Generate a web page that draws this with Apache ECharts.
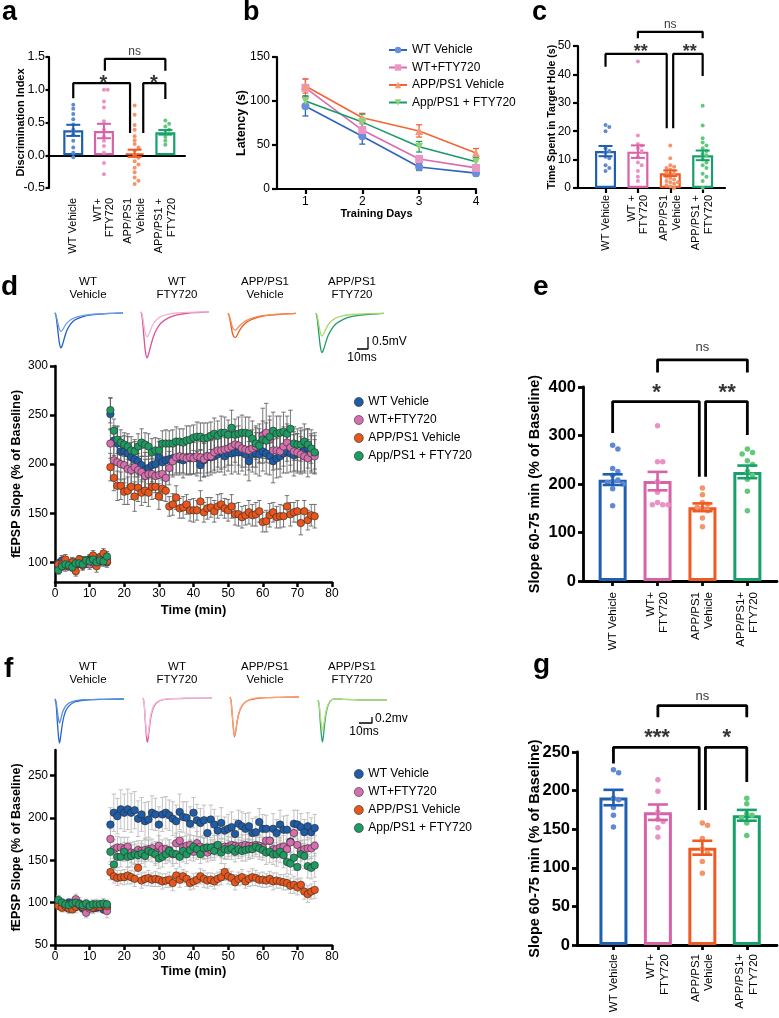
<!DOCTYPE html>
<html><head><meta charset="utf-8">
<script src="https://cdn.jsdelivr.net/npm/echarts@6/dist/echarts.min.js"></script>
<style>html,body{margin:0;padding:0;background:#fff}#c{width:779px;height:1018px}</style>
</head><body><div id="c"></div>
<script>
const FONT='"Liberation Sans", Arial, Helvetica, sans-serif';

// ================= DATA =================
const groups=['WT Vehicle','WT+FTY720','APP/PS1 Vehicle','App/PS1 + FTY720'];
const labelsA=['WT Vehicle','WT+\nFTY720','APP/PS1\nVehicle','APP/PS1 +\nFTY720'];
const labelsC=['WT Vehicle','WT +\nFTY720','APP/PS1\nVehicle','APP/PS1 +\nFTY720'];
const labelsEG=['WT Vehicle','WT+\nFTY720','APP/PS1\nVehicle','APP/PS1+\nFTY720'];

// panel a
const aMean=[0.38,0.37,0.03,0.35];
const aSem=[0.085,0.11,0.055,0.035];
const aDots=[[0.77,0.71,0.63,0.55,0.47,0.39,0.32,0.22,0.12,0.04,-0.03],
  [1.0,1.0,0.82,0.73,0.52,0.39,0.29,0.22,0.14,0.04,-0.12,-0.29],
  [0.76,0.62,0.46,0.39,0.29,0.23,0.17,0.12,0.07,0.0,-0.04,-0.09,-0.14,-0.19,-0.26,-0.34,-0.39,-0.44],
  [0.53,0.48,0.44,0.39,0.34,0.28,0.22,0.16]];
const aBrackets=[{x1:0,x2:1.85,y:1.1,l1:0.87,l2:0.34,t:'*',tx:0.98,ty:1.17},
  {x1:2.28,x2:3,y:1.1,l1:0.34,l2:0.86,t:'*',tx:2.63,ty:1.17},
  {x1:1.03,x2:3,y:1.47,l1:1.29,l2:1.29,t:'ns',tx:2.0,ty:1.58}];

// panel b
const bDays=[1,2,3,4];
const bMean=[[94,60,25,18],[115,67,34,24],[117,81,66,41],[100,76,48,31]];
const bSem=[[11,9,4,3],[10,7,4,3],[8,5,7,5],[6,9,6,5]];

// panel c
const cMean=[13.0,12.8,5.2,11.5];
const cSem=[1.8,2.2,1.0,1.7];
const cDots=[[22.2,21.5,20,14,13,12.5,11,10.5,8,7,6],
  [44.5,18.5,15.5,15,14,13,11,9,8,6,4,2.5],
  [15,10.5,8,7.5,7,6.5,6,5.5,5,4.5,4,3.5,3,2.5,2,2,1.5,1,0.5,0],
  [29,22,17.5,16,15,14,13,12,11.5,10,9,8,7,5,4,2.5,0]];
const cBrackets=[{x1:0,x2:1.89,y:47.2,l1:42.7,l2:21,t:'**',tx:1.09,ty:49.3},
  {x1:2.09,x2:3,y:47.2,l1:21,l2:39.4,t:'**',tx:2.6,ty:49.3},
  {x1:1,x2:3,y:55,l1:52.7,l2:52.7,t:'ns',tx:2.0,ty:57.5}];

// traces (ms, mV)
const tD=[0,1,2.5,4,5.5,7,9,11,14,18,25,33,42,52,62];
const dTraces=[
  {small:[0,-0.1,-0.4,-0.68,-0.78,-0.7,-0.55,-0.42,-0.3,-0.2,-0.12,-0.07,-0.04,-0.02,0],
   large:[0,-0.15,-0.7,-1.25,-1.46,-1.3,-0.98,-0.72,-0.48,-0.3,-0.17,-0.09,-0.05,-0.02,0]},
  {small:[0,-0.1,-0.5,-0.9,-1.04,-0.95,-0.72,-0.52,-0.34,-0.2,-0.1,-0.05,-0.02,-0.01,0],
   large:[0,-0.2,-0.95,-1.65,-1.92,-1.75,-1.4,-1.08,-0.75,-0.48,-0.25,-0.13,-0.06,-0.03,0]},
  {small:[0,-0.08,-0.32,-0.58,-0.68,-0.7,-0.6,-0.5,-0.38,-0.27,-0.16,-0.09,-0.05,-0.02,0],
   large:[0,-0.1,-0.45,-0.82,-0.98,-1.0,-0.85,-0.68,-0.5,-0.34,-0.2,-0.11,-0.06,-0.02,0]},
  {small:[0,-0.1,-0.45,-0.82,-0.95,-0.86,-0.66,-0.48,-0.32,-0.2,-0.1,-0.05,-0.02,-0.01,0],
   large:[0,-0.18,-0.8,-1.4,-1.64,-1.5,-1.2,-0.94,-0.68,-0.45,-0.25,-0.13,-0.07,-0.03,0]}];
const tF=[0,0.8,1.8,2.8,3.5,4.5,6,8,11,15,20,28,38,53];
const fTraces=[
  {small:[0,-0.08,-0.4,-0.7,-0.8,-0.66,-0.42,-0.25,-0.13,-0.06,-0.03,-0.02,-0.01,0],
   large:[0,-0.15,-0.75,-1.3,-1.47,-1.2,-0.75,-0.42,-0.22,-0.1,-0.05,-0.02,-0.01,0]},
  {small:[0,-0.12,-0.7,-1.18,-1.3,-1.0,-0.55,-0.27,-0.12,-0.05,-0.02,-0.01,0,0],
   large:[0,-0.15,-0.8,-1.35,-1.47,-1.15,-0.65,-0.32,-0.14,-0.06,-0.03,-0.02,-0.01,0]},
  {small:[0,-0.12,-0.62,-1.1,-1.28,-1.08,-0.68,-0.38,-0.19,-0.09,-0.04,-0.02,-0.01,0],
   large:[0,-0.12,-0.65,-1.15,-1.33,-1.12,-0.7,-0.4,-0.2,-0.1,-0.05,-0.02,-0.01,0]},
  {small:[0,-0.1,-0.5,-0.88,-1.0,-0.78,-0.4,-0.12,0.02,0.04,0.02,0.01,0,0],
   large:[0,-0.15,-0.75,-1.25,-1.4,-1.05,-0.5,-0.15,0.02,0.04,0.02,0.01,0,0]}];
const traceTitles=['WT\nVehicle','WT\nFTY720','APP/PS1\nVehicle','APP/PS1\nFTY720'];
const scaleD={ms:10,mv:0.5,label:'0.5mV'};
const scaleF={ms:10,mv:0.2,label:'0.2mv'};

// panel d : fEPSP slope, minutes 1..75
const minutes=Array.from({length:75},(_,i)=>i+1);
const dWT=[99,102,97,98,99,97,100,99,100,103,102,101,103,105,100,
 251,224,221,213,213,211,207,205,203,199,194,196,199,200,207,202,204,205,206,206,205,204,207,206,207,206,199,204,207,207,208,210,212,208,211,211,212,212,212,210,203,210,211,210,213,211,208,203,206,208,211,213,211,209,211,212,214,216,213,211];
const dFTY=[97,98,96,99,97,98,100,101,99,98,100,104,102,103,103,
 221,204,202,200,199,195,194,197,194,192,188,190,190,188,189,190,186,196,203,207,208,207,206,207,206,208,207,205,208,208,212,214,214,215,216,218,220,219,216,215,214,216,218,221,229,232,225,214,214,213,218,222,217,213,212,210,208,206,211,208];
const dAPP=[98,98,103,96,100,91,103,97,101,102,107,96,104,109,101,
 197,186,178,178,172,173,177,167,176,171,173,171,177,177,167,175,173,157,159,166,155,156,159,153,153,153,162,151,155,156,152,157,159,155,153,157,149,149,146,148,151,148,149,152,141,142,148,151,146,147,147,157,149,151,152,140,152,143,148,147];
const dAPPF=[92,96,98,97,95,99,99,98,102,101,103,100,102,101,106,
 255,234,225,222,220,218,214,213,218,222,220,218,212,214,214,221,221,221,221,223,223,222,224,225,227,228,228,226,227,229,231,229,232,232,230,237,230,231,232,232,231,226,221,219,225,224,228,234,231,232,233,231,236,221,220,220,223,220,216,212];
const dWTsem=[4,5,4,4,5,4,5,4,5,5,4,5,6,6,5,
 16,15,17,15,16,17,15,18,16,17,18,16,17,15,16,18,17,16,17,15,16,18,17,16,17,18,16,17,19,18,17,18,20,19,18,21,20,22,19,21,20,18,21,22,20,21,19,22,20,21,20,22,19,21,20,22,21,20,22,21];
const dFTYsem=[4,4,5,4,5,4,4,5,4,5,5,4,5,5,4,
 15,16,17,16,18,17,16,18,17,16,17,18,16,17,18,16,15,17,16,18,17,16,17,18,16,17,16,18,17,16,18,17,19,18,17,19,18,20,19,18,20,19,21,20,28,30,24,20,19,18,20,19,18,20,19,18,17,19,18,17];
const dAPPsem=[4,5,5,4,5,5,4,5,4,5,5,6,5,5,4,
 14,13,15,14,13,14,13,15,14,13,12,14,13,12,13,12,11,10,11,12,10,11,10,11,12,10,11,10,11,10,11,12,11,10,11,12,11,12,11,10,12,11,12,11,10,11,12,10,11,12,11,11,12,10,11,12,11,10,11,12];
const dAPPFsem=[4,4,5,4,4,5,4,5,4,4,5,5,4,5,5,
 13,12,14,13,12,13,14,12,13,14,12,13,14,13,12,13,14,13,14,15,13,14,15,14,13,15,14,16,15,14,16,15,17,16,15,18,16,17,18,16,17,18,16,17,19,18,17,19,18,17,20,18,19,17,16,17,18,16,15,17];

// panel e
const eMean=[209,206,152,225];
const eSem=[11,19,8,13];
const eDots=[[280,272,232,226,218,208,205,203,200,190,155],
  [320,246,246,205,183,162,157,157,157],
  [192,178,162,158,152,150,145,130,112],
  [272,265,262,248,240,226,218,210,185,145]];
const eBrackets=[{x1:0,x2:1.93,y:370,l1:305,l2:215,t:'*',tx:0.98,ty:397},
  {x1:2.07,x2:3,y:370,l1:215,l2:301,t:'**',tx:2.55,ty:397},
  {x1:1,x2:3,y:456,l1:430,l2:430,t:'ns',tx:2.0,ty:482}];

// panel f
const fWT=[102,98,95,100,97,95,97,93,96,94,93,94,95,92,94,
 192,206,202,210,206,210,206,209,199,204,196,198,206,204,192,204,206,203,199,196,207,201,200,193,206,197,194,197,182,198,192,185,194,185,187,189,181,193,190,187,190,182,183,195,187,187,173,187,182,192,186,186,172,193,192,189,183,190,183,188];
const fFTY=[98,96,95,93,94,104,99,96,88,93,97,95,96,97,90,
 175,163,165,165,163,166,159,159,162,161,162,163,164,159,167,163,163,162,157,170,173,165,167,168,160,170,166,164,159,162,166,167,164,166,166,168,167,166,167,168,167,167,168,167,165,173,173,163,163,165,166,163,171,182,168,161,163,164,164,167];
const fAPP=[96,94,96,93,92,95,97,95,96,95,94,96,95,97,96,
 136,131,129,130,130,132,130,128,141,126,128,129,127,128,127,125,126,127,123,132,127,131,128,123,125,127,131,128,126,127,125,128,130,136,131,129,124,128,130,125,128,130,129,127,127,126,128,125,126,125,124,123,120,121,118,121,113,110,113,115];
const fAPPF=[103,100,98,97,99,100,98,97,99,96,98,98,98,99,98,
 160,145,154,154,160,154,155,157,156,158,155,161,159,157,152,154,157,161,158,157,154,161,157,162,166,163,157,164,165,165,161,168,159,163,162,164,160,163,161,162,163,163,166,164,162,159,160,157,157,160,156,148,146,153,142,157,155,143,141,144];
const fWTsem=[6,5,6,5,6,7,6,5,6,5,6,5,6,5,6,
 20,22,21,23,22,24,23,22,21,20,22,21,20,19,21,20,19,18,20,19,21,18,19,20,18,19,17,18,19,17,18,17,18,16,17,18,17,16,17,18,16,17,18,16,17,16,17,18,16,17,16,17,15,16,17,16,15,16,17,16];
const fFTYsem=[5,6,5,6,5,6,7,5,6,5,6,5,6,5,8,
 12,11,13,12,14,11,12,13,11,12,14,12,11,13,12,11,13,12,14,12,11,13,12,12,11,14,12,13,11,12,13,12,11,14,12,13,12,11,13,12,14,12,11,13,12,12,13,11,14,12,13,12,11,13,14,12,11,13,12,12];
const fAPPsem=[4,5,4,5,4,5,4,5,4,5,4,5,4,5,4,
 9,8,9,8,9,10,8,9,8,9,8,9,8,9,8,9,8,9,9,8,9,8,9,8,9,8,9,10,9,8,9,8,9,10,9,8,9,8,9,8,9,10,9,8,9,8,9,10,9,8,9,8,9,10,9,8,9,10,9,10];
const fAPPFsem=[5,5,6,5,6,5,6,5,5,6,5,6,5,6,5,
 12,11,13,12,11,12,13,12,11,12,13,12,11,13,12,12,11,13,12,11,12,13,11,12,13,12,11,12,13,12,11,12,13,12,11,13,12,11,12,13,12,11,12,13,12,14,13,12,14,13,15,14,13,15,14,13,15,14,13,14];

// panel g
const gMean=[191,172,126,168];
const gSem=[10,10,9,7];
const gDots=[[227,223,190,188,178,168,153],
  [214,199,172,163,160,152,140],
  [158,155,138,124,119,108,93],
  [190,183,170,168,165,158,142]];
const gBrackets=[{x1:0,x2:1.93,y:256,l1:235,l2:175,t:'***',tx:0.98,ty:274},
  {x1:2.07,x2:3,y:256,l1:175,l2:211,t:'*',tx:2.55,ty:274},
  {x1:1,x2:3,y:310,l1:295,l2:295,t:'ns',tx:2.0,ty:322}];

// ================= STYLE =================
const barCol=['#1f5fb0','#d862a7','#ef5a23','#17a06b'];
const dotCol=['#5f8ad3','#eb92c5','#f5946a','#62c97a'];
const bLine=['#2f65bf','#de6aae','#f26636','#1b9a68'];
const bMark=['#6a8fd8','#ea97c6','#f5997a','#8ed27a'];
const bSym=['circle','rect','triangle','triangle'];
const bRot=[0,0,0,180];
const ltpCol=['#1f5ca8','#d66fae','#e8561c','#1e9a62'];
const trSmall=[['#6f9ee6','#f2b3d5','#f58a55','#a9d86e'],['#5a90e0','#f3bedb','#f6a27a','#b7df7f']];
const trLarge=[['#2160c4','#d9529a','#ea5a1e','#1e9e63'],['#2565c8','#d95a9e','#f0652a','#27a36a']];

const grid=[],xAxis=[],yAxis=[],series=[],legend=[],graphic=[];

function errSeries(xi,yi,rows,color,lw,cap,z){
  return {type:'custom',xAxisIndex:xi,yAxisIndex:yi,z:z,silent:true,clip:false,
    encode:{x:0,y:[1,2]},data:rows,
    renderItem:function(params,api){
      const x=api.value(0),lo=api.value(1),hi=api.value(2);
      const a=api.coord([x,lo]),b=api.coord([x,hi]);
      const st={stroke:color,lineWidth:lw};
      return {type:'group',children:[
        {type:'line',shape:{x1:a[0],y1:a[1],x2:b[0],y2:b[1]},style:st},
        {type:'line',shape:{x1:a[0]-cap,y1:a[1],x2:a[0]+cap,y2:a[1]},style:st},
        {type:'line',shape:{x1:b[0]-cap,y1:b[1],x2:b[0]+cap,y2:b[1]},style:st}]};
    }};
}

function swarm(vals,pxPerY,size,pxPerX){
  const placed=[],out=[];
  vals.forEach(v=>{
    const y=v*pxPerY;let off=0;
    for(const c of [0,1,-1,2,-2,3,-3]){
      const x=c*size*0.95;
      if(placed.every(p=>Math.hypot(p[0]-x,p[1]-y)>=size*0.95)){off=x;break;}
    }
    placed.push([off,y]);out.push(off/pxPerX);
  });
  return out;
}

function txt(x,y,text,o){
  o=o||{};
  graphic.push({type:'text',x:x,y:y,silent:true,z:100,style:{text:text,fill:'#000',
    font:(o.bold?'bold ':'')+(o.size||12)+'px '+FONT,
    align:o.align||'left',verticalAlign:'middle',textAlign:o.align||'left',textVerticalAlign:'middle',
    lineHeight:o.lh||undefined}});
}

function barPanel(P){
  const gi=grid.length;
  grid.push({left:P.left,top:P.top,width:P.width,height:P.height});
  const ax={color:'#000',width:P.lw};
  const xi=xAxis.length;
  xAxis.push({gridIndex:gi,type:'value',min:P.xmin,max:P.xmax,position:'bottom',
    axisLine:{show:!P.zeroLine,onZero:false,lineStyle:ax},
    axisTick:{show:!P.zeroLine,length:5,customValues:[0,1,2,3],lineStyle:ax},
    axisLabel:{customValues:[0,1,2,3],formatter:v=>P.labels[Math.round(v)],rotate:90,
      fontSize:P.xfs,fontFamily:FONT,color:'#000',margin:P.lmargin,lineHeight:P.xfs*1.15},
    splitLine:{show:false}});
  if(P.zeroLine){
    xAxis.push({gridIndex:gi,type:'value',min:P.xmin,max:P.xmax,position:'bottom',
      axisLine:{show:true,onZero:true,lineStyle:ax},axisTick:{show:false},axisLabel:{show:false},splitLine:{show:false}});
  }
  const yi=yAxis.length;
  yAxis.push({gridIndex:gi,type:'value',min:P.ymin,max:P.ymax,interval:P.yint,
    axisLine:{show:true,onZero:false,lineStyle:ax},axisTick:{show:true,length:P.tickLen||5,lineStyle:ax},
    axisLabel:{fontSize:P.yfs,fontWeight:P.yfw||'normal',fontFamily:FONT,color:'#000',margin:P.ymargin,formatter:P.yfmt},
    splitLine:{show:false},name:P.yname,nameLocation:'middle',nameGap:P.ngap,nameMoveOverlap:false,
    nameTextStyle:{fontSize:P.nfs,fontWeight:'bold',fontFamily:FONT,color:'#000'}});
  series.push({type:'bar',xAxisIndex:xi,yAxisIndex:yi,barWidth:P.bw,z:2,silent:true,
    data:P.means.map((m,i)=>({value:[i,m],itemStyle:{color:'#fff',borderColor:barCol[i],borderWidth:P.bbw}}))});
  const pxY=P.height/(P.ymax-P.ymin), pxX=P.width/(P.xmax-P.xmin);
  P.dots.forEach((vals,i)=>{
    const offs=swarm(vals,pxY,P.ds,pxX);
    series.push({type:'scatter',xAxisIndex:xi,yAxisIndex:yi,symbolSize:P.ds,z:4,silent:true,
      itemStyle:{color:dotCol[i],opacity:1},data:vals.map((v,j)=>[i+offs[j],v])});
  });
  P.means.forEach((m,i)=>{
    series.push(errSeries(xi,yi,[[i,m-P.sem[i],m+P.sem[i]]],barCol[i],P.elw,P.cap,5));
  });
  P.brackets.forEach(b=>{
    series.push({type:'line',xAxisIndex:xi,yAxisIndex:yi,clip:false,symbol:'none',silent:true,z:6,
      lineStyle:{color:'#000',width:P.brw},data:[[b.x1,b.l1],[b.x1,b.y],[b.x2,b.y],[b.x2,b.l2]]});
  });
  series.push({type:'scatter',xAxisIndex:xi,yAxisIndex:yi,clip:false,silent:true,z:7,symbolSize:1,
    itemStyle:{color:'rgba(0,0,0,0)'},
    data:P.brackets.map(b=>{
      const star=b.t!=='ns';const fs=star?P.starFs:P.nsFs;
      return {value:[b.tx,b.ty],label:{show:true,position:'inside',formatter:b.t,color:'#000',
        fontFamily:FONT,fontSize:fs,fontWeight:star?'bold':'normal',offset:[0,star?fs*0.22:0]}};
    })});
}

function ltpPanel(P){
  const gi=grid.length;
  grid.push({left:P.left,top:P.top,width:P.width,height:P.height});
  const ax={color:'#000',width:P.lw};
  const xi=xAxis.length;
  xAxis.push({gridIndex:gi,type:'value',min:0,max:80,interval:10,
    axisLine:{show:true,onZero:false,lineStyle:ax},axisTick:{show:true,length:5,lineStyle:ax},
    axisLabel:{fontSize:12,fontFamily:FONT,color:'#000',margin:6},splitLine:{show:false},
    name:'Time (min)',nameLocation:'middle',nameGap:P.xgap,nameMoveOverlap:false,
    nameTextStyle:{fontSize:13,fontWeight:'bold',fontFamily:FONT,color:'#000'}});
  const yi=yAxis.length;
  yAxis.push({gridIndex:gi,type:'value',min:P.ymin,max:P.ymax,
    axisLine:{show:true,onZero:false,lineStyle:ax},
    axisTick:{show:true,length:5,customValues:P.yticks,lineStyle:ax},
    axisLabel:{customValues:P.yticks,fontSize:12,fontFamily:FONT,color:'#000',margin:7},
    splitLine:{show:false},name:'fEPSP Slope (% of Baseline)',nameLocation:'middle',nameGap:P.ngap,nameMoveOverlap:false,
    nameTextStyle:{fontSize:12.5,fontWeight:'bold',fontFamily:FONT,color:'#000'}});
  P.vals.forEach((vals,k)=>{
    series.push(errSeries(xi,yi,vals.map((v,j)=>[minutes[j],v-P.sems[k][j],v+P.sems[k][j]]),P.errCol,0.8,2.2,3));
  });
  P.vals.forEach((vals,k)=>{
    series.push({type:'scatter',name:P.key+':'+groups[k],xAxisIndex:xi,yAxisIndex:yi,symbolSize:7.5,z:5,silent:true,
      itemStyle:{color:ltpCol[k],borderColor:'#2a2a2a',borderWidth:0.6,opacity:1},
      data:vals.map((v,j)=>[minutes[j],v])});
  });
  legend.push({left:P.legLeft,top:P.legTop,orient:'vertical',itemGap:6,itemWidth:9,itemHeight:9,selectedMode:false,
    textStyle:{fontSize:12,fontFamily:FONT,color:'#000'},formatter:n=>n.slice(2),
    data:groups.map((g,k)=>({name:P.key+':'+g,icon:'circle',itemStyle:{color:ltpCol[k],borderColor:'#2a2a2a',borderWidth:0.6}}))});
}

function tracePanel(T){
  T.lefts.forEach((left,i)=>{
    const gi=grid.length;
    grid.push({left:left,top:T.tops[i],width:T.w,height:T.h});
    const xi=xAxis.length,yi=yAxis.length;
    xAxis.push({gridIndex:gi,type:'value',show:false,min:0,max:T.tmax});
    yAxis.push({gridIndex:gi,type:'value',show:false,min:T.ymin,max:T.ymax});
    const tr=T.traces[i];
    series.push({type:'line',xAxisIndex:xi,yAxisIndex:yi,showSymbol:false,smooth:0.3,silent:true,clip:false,z:3,
      lineStyle:{color:trLarge[T.ci][i],width:1.3},data:T.t.map((t,j)=>[t,tr.large[j]])});
    series.push({type:'line',xAxisIndex:xi,yAxisIndex:yi,showSymbol:false,smooth:0.3,silent:true,clip:false,z:4,
      lineStyle:{color:trSmall[T.ci][i],width:1.3},data:T.t.map((t,j)=>[t,tr.small[j]])});
    txt(T.titleX[i],T.titleY,traceTitles[i],{size:11.5,align:'center',lh:13});
  });
  const gi=grid.length;
  grid.push(T.sbGrid);
  const xi=xAxis.length,yi=yAxis.length;
  xAxis.push({gridIndex:gi,type:'value',show:false,min:0,max:T.scale.ms});
  yAxis.push({gridIndex:gi,type:'value',show:false,min:0,max:T.scale.mv});
  series.push({type:'line',xAxisIndex:xi,yAxisIndex:yi,showSymbol:false,silent:true,clip:false,
    lineStyle:{color:'#000',width:1.3},data:[[0,0],[T.scale.ms,0],[T.scale.ms,T.scale.mv]]});
  txt(T.sbLab[0],T.sbLab[1],T.scale.label,{size:12});
  txt(T.msLab[0],T.msLab[1],T.scale.ms+'ms',{size:12,align:'center'});
}

// ---------- panel a ----------
barPanel({left:49,top:57,width:136,height:131,xmin:-0.79,xmax:3.64,ymin:-0.5,ymax:1.5,yint:0.5,
  yfmt:v=>v.toFixed(1),labels:labelsA,means:aMean,sem:aSem,dots:aDots,brackets:aBrackets,zeroLine:true,
  bw:20,bbw:2.2,lw:2.2,ds:4,cap:7,elw:2,xfs:11,lmargin:10,yfs:12.5,ymargin:4,tickLen:3.5,
  yname:'Discrimination Index',nfs:11,ngap:23,brw:2.2,starFs:20,nsFs:12});

// ---------- panel b ----------
(function(){
  const gi=grid.length;
  grid.push({left:277,top:57,width:199,height:132});
  const ax={color:'#000',width:2.2};
  const xi=xAxis.length,yi=yAxis.length;
  xAxis.push({gridIndex:gi,type:'value',min:0.5,max:4,
    axisLine:{show:true,onZero:false,lineStyle:ax},axisTick:{show:true,length:5,customValues:bDays,lineStyle:ax},
    axisLabel:{customValues:bDays,fontSize:12,fontFamily:FONT,color:'#000',margin:7},splitLine:{show:false},
    name:'Training Days',nameLocation:'middle',nameGap:19,nameMoveOverlap:false,
    nameTextStyle:{fontSize:11,fontWeight:'bold',fontFamily:FONT,color:'#000'}});
  yAxis.push({gridIndex:gi,type:'value',min:0,max:150,interval:50,
    axisLine:{show:true,onZero:false,lineStyle:ax},axisTick:{show:true,length:5,lineStyle:ax},
    axisLabel:{fontSize:12,fontFamily:FONT,color:'#000',margin:7},splitLine:{show:false},
    name:'Latency (s)',nameLocation:'middle',nameGap:29,nameMoveOverlap:false,
    nameTextStyle:{fontSize:12.5,fontWeight:'bold',fontFamily:FONT,color:'#000'}});
  bMean.forEach((m,k)=>{
    series.push(errSeries(xi,yi,bDays.map((d,j)=>[d,m[j]-bSem[k][j],m[j]+bSem[k][j]]),bLine[k],1.3,3,3));
  });
  bMean.forEach((m,k)=>{
    series.push({type:'line',name:'b:'+groups[k],xAxisIndex:xi,yAxisIndex:yi,symbol:bSym[k],symbolRotate:bRot[k],
      symbolSize:8,showSymbol:true,z:5,silent:true,lineStyle:{color:bLine[k],width:1.6},
      itemStyle:{color:bMark[k]},data:bDays.map((d,j)=>[d,m[j]])});
  });
  legend.push({left:383,top:39,orient:'vertical',itemGap:5.5,itemWidth:18,itemHeight:8,selectedMode:false,
    textStyle:{fontSize:12,fontFamily:FONT,color:'#000'},formatter:n=>n.slice(2),
    data:groups.map(g=>'b:'+g)});
})();

// ---------- panel c ----------
barPanel({left:578,top:46,width:147,height:142,xmin:-0.85,xmax:3.69,ymin:0,ymax:50,yint:10,
  labels:labelsC,means:cMean,sem:cSem,dots:cDots,brackets:cBrackets,zeroLine:false,
  bw:21,bbw:2.2,lw:2.2,ds:4,cap:7,elw:2,xfs:11,lmargin:7,yfs:12,ymargin:7,
  yname:'Time Spent in Target Hole (s)',nfs:10.5,ngap:20.5,brw:2.2,starFs:18,nsFs:12});

// ---------- panel d ----------
tracePanel({lefts:[55,141,228,316],tops:[308,307,308.5,308.5],w:68,h:54,tmax:62,ymin:-2.05,ymax:0.2,
  t:tD,traces:dTraces,ci:0,titleX:[88,177,265,352],titleY:288.5,scale:scaleD,
  sbGrid:{left:357,top:337,width:11,height:12},sbLab:[372,342],msLab:[362,358]});
ltpPanel({key:'d',left:55,top:366,width:277,height:216,ymin:80,ymax:300,yticks:[100,150,200,250,300],
  vals:[dWT,dFTY,dAPP,dAPPF],sems:[dWTsem,dFTYsem,dAPPsem,dAPPFsem],errCol:'#555',lw:2.5,
  xgap:22,ngap:32,legLeft:349,legTop:391});

// ---------- panel e ----------
barPanel({left:583,top:387,width:194,height:194,xmin:-0.66,xmax:3.66,ymin:0,ymax:400,yint:100,
  labels:labelsEG,means:eMean,sem:eSem,dots:eDots,brackets:eBrackets,zeroLine:false,
  bw:28,bbw:3,lw:2.8,ds:5.5,cap:10,elw:2.6,xfs:11.5,lmargin:11,yfs:16.5,yfw:'bold',ymargin:7,
  yname:'Slope 60-75 min (% of Baseline)',nfs:14.5,ngap:40.5,brw:2.8,starFs:22,nsFs:13});

// ---------- panel f ----------
tracePanel({lefts:[55,143,230,318],tops:[693,692,691,694],w:69,h:54,tmax:53,ymin:-1.6,ymax:0.2,
  t:tF,traces:fTraces,ci:1,titleX:[88,177,265,352],titleY:673,scale:scaleF,
  sbGrid:{left:359,top:717,width:13,height:6},sbLab:[375,719],msLab:[364,732]});
ltpPanel({key:'f',left:55,top:750,width:277,height:195,ymin:50,ymax:280,yticks:[50,100,150,200,250],
  vals:[fWT,fFTY,fAPP,fAPPF],sems:[fWTsem,fFTYsem,fAPPsem,fAPPFsem],errCol:'#b5b5b5',lw:2.5,
  xgap:20,ngap:32,legLeft:349,legTop:763});

// ---------- panel g ----------
barPanel({left:577,top:752,width:200,height:193,xmin:-0.82,xmax:3.68,ymin:0,ymax:250,yint:50,
  labels:labelsEG,means:gMean,sem:gSem,dots:gDots,brackets:gBrackets,zeroLine:false,
  bw:28,bbw:3,lw:2.8,ds:5.5,cap:10,elw:2.6,xfs:11.5,lmargin:9,yfs:16.5,yfw:'bold',ymargin:7,
  yname:'Slope 60-75 min (% of Baseline)',nfs:14.5,ngap:34.5,brw:2.8,starFs:22,nsFs:13});

// panel letters
txt(2,13,'a',{bold:true,size:27});
txt(243,13,'b',{bold:true,size:27});
txt(532,13,'c',{bold:true,size:27});
txt(1,287,'d',{bold:true,size:28});
txt(533,287,'e',{bold:true,size:28});
txt(4,669,'f',{bold:true,size:28});
txt(533,665,'g',{bold:true,size:28});

const chart=echarts.init(document.getElementById('c'),null,{renderer:'canvas'});
chart.setOption({animation:false,backgroundColor:'#fff',textStyle:{fontFamily:FONT},
  grid:grid,xAxis:xAxis,yAxis:yAxis,series:series,legend:legend,graphic:graphic});
</script></body></html>
